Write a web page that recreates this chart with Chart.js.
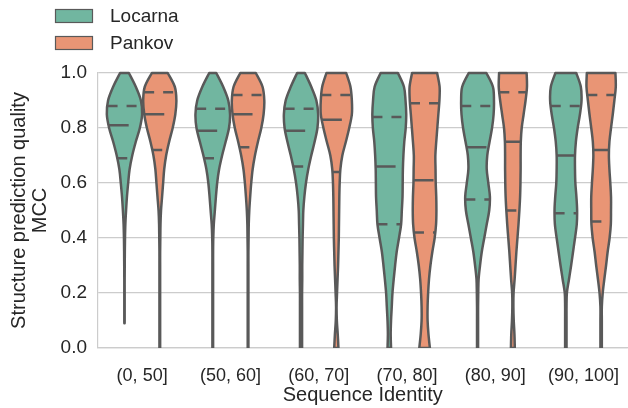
<!DOCTYPE html>
<html>
<head>
<meta charset="utf-8">
<script src="https://cdn.jsdelivr.net/npm/chart.js@4.4.0/dist/chart.umd.min.js"></script>
<style>
  html, body { margin: 0; padding: 0; background: #fff; }
</style>
</head>
<body>
<canvas id="violinChart" width="628" height="408"></canvas>
<script>
// categories and series
const categories = ["(0, 50]", "(50, 60]", "(60, 70]", "(70, 80]", "(80, 90]", "(90, 100]"];
const seriesNames = ["Locarna", "Pankov"];
const seriesColors = ["#71b6a0", "#e99575"];
const outlineColor = "#595959";

// MCC levels where the violin widths were read (bottom -> top)
const levels = [0, 0.05, 0.1, 0.15, 0.2, 0.25, 0.3, 0.35, 0.4, 0.45, 0.5,
                0.55, 0.6, 0.65, 0.7, 0.75, 0.8, 0.85, 0.9, 0.95, 1];

// relative half-widths (1 = full half of the slot), one row per category
const locarnaDensity = [
  [0, 0, 0.01, 0.01, 0.01, 0.01, 0.015, 0.02, 0.03, 0.05, 0.09, 0.14, 0.21, 0.29, 0.44, 0.64, 0.87, 1.0, 0.93, 0.64, 0.25],
  [0.02, 0.02, 0.02, 0.02, 0.02, 0.02, 0.02, 0.02, 0.03, 0.06, 0.12, 0.18, 0.25, 0.36, 0.53, 0.73, 0.92, 0.98, 0.88, 0.59, 0.2],
  [0.06, 0.06, 0.06, 0.06, 0.06, 0.07, 0.07, 0.08, 0.09, 0.11, 0.13, 0.19, 0.28, 0.41, 0.58, 0.77, 0.93, 0.97, 0.87, 0.58, 0.22],
  [0.1, 0.08, 0.1, 0.14, 0.18, 0.25, 0.33, 0.42, 0.55, 0.67, 0.71, 0.75, 0.76, 0.77, 0.8, 0.85, 0.93, 0.96, 0.92, 0.83, 0.49],
  [0.03, 0.03, 0.03, 0.03, 0.04, 0.06, 0.14, 0.24, 0.38, 0.52, 0.66, 0.7, 0.61, 0.52, 0.55, 0.68, 0.82, 0.91, 0.93, 0.87, 0.5],
  [0.04, 0.04, 0.04, 0.04, 0.06, 0.18, 0.3, 0.41, 0.52, 0.62, 0.64, 0.6, 0.54, 0.52, 0.52, 0.57, 0.67, 0.8, 0.89, 0.85, 0.59]
];
const pankovDensity = [
  [0.02, 0.02, 0.02, 0.02, 0.02, 0.02, 0.02, 0.02, 0.03, 0.04, 0.07, 0.13, 0.19, 0.25, 0.36, 0.53, 0.73, 0.88, 0.94, 0.85, 0.45],
  [0.02, 0.02, 0.02, 0.02, 0.02, 0.02, 0.02, 0.02, 0.03, 0.04, 0.07, 0.12, 0.18, 0.26, 0.39, 0.56, 0.75, 0.88, 0.92, 0.82, 0.44],
  [0.12, 0.08, 0.03, 0.015, 0.04, 0.07, 0.1, 0.12, 0.14, 0.15, 0.16, 0.17, 0.19, 0.23, 0.34, 0.54, 0.73, 0.88, 0.88, 0.8, 0.56],
  [0.3, 0.22, 0.17, 0.17, 0.2, 0.25, 0.33, 0.44, 0.57, 0.65, 0.67, 0.66, 0.63, 0.62, 0.61, 0.66, 0.72, 0.78, 0.84, 0.85, 0.71],
  [0.11, 0.09, 0.05, 0.03, 0.04, 0.1, 0.15, 0.2, 0.26, 0.32, 0.37, 0.41, 0.43, 0.44, 0.44, 0.45, 0.5, 0.61, 0.72, 0.8, 0.78],
  [0.04, 0.04, 0.04, 0.04, 0.09, 0.18, 0.28, 0.37, 0.48, 0.55, 0.56, 0.56, 0.52, 0.47, 0.44, 0.47, 0.56, 0.66, 0.75, 0.83, 0.81]
];

// data range and quartiles
const locarnaMin = [0.09, 0, 0, 0, 0, 0];
const locarnaMax = [1, 1, 1, 1, 1, 1];
const locarnaQ1 = [0.69, 0.69, 0.66, 0.45, 0.54, 0.49];
const locarnaMedian = [0.81, 0.79, 0.79, 0.66, 0.73, 0.70];
const locarnaQ3 = [0.88, 0.87, 0.87, 0.84, 0.88, 0.88];

const pankovMin = [0, 0, 0, 0, 0, 0];
const pankovMax = [1, 1, 1, 1, 1, 1];
const pankovQ1 = [0.72, 0.73, 0.64, 0.42, 0.50, 0.46];
const pankovMedian = [0.85, 0.85, 0.83, 0.61, 0.75, 0.72];
const pankovQ3 = [0.93, 0.92, 0.92, 0.89, 0.93, 0.92];

const yTickStep = 0.2;

const violinStats = [
  { density: locarnaDensity, min: locarnaMin, max: locarnaMax, q1: locarnaQ1, med: locarnaMedian, q3: locarnaQ3 },
  { density: pankovDensity, min: pankovMin, max: pankovMax, q1: pankovQ1, med: pankovMedian, q3: pankovQ3 }
];

function widthAt(dens, v) {
  for (let i = 0; i < levels.length - 1; i++) {
    if (v >= levels[i] && v <= levels[i + 1]) {
      const t = (v - levels[i]) / (levels[i + 1] - levels[i]);
      return dens[i] + t * (dens[i + 1] - dens[i]);
    }
  }
  return v < levels[0] ? dens[0] : dens[dens.length - 1];
}

function curveThrough(ctx, pts) {
  for (let i = 0; i < pts.length - 1; i++) {
    const p0 = pts[i - 1] || pts[i], p1 = pts[i], p2 = pts[i + 1], p3 = pts[i + 2] || p2;
    ctx.bezierCurveTo(p1.x + (p2.x - p0.x) / 6, p1.y + (p2.y - p0.y) / 6,
                      p2.x - (p3.x - p1.x) / 6, p2.y - (p3.y - p1.y) / 6, p2.x, p2.y);
  }
}

const violinPlugin = {
  id: 'violins',
  beforeDatasetDraw() {
    return false; // bars are only used for placement
  },
  afterDatasetsDraw(chart) {
    const ctx = chart.ctx;
    const yScale = chart.scales.y;
    const area = chart.chartArea;
    ctx.save();
    ctx.beginPath();
    ctx.rect(area.left, area.top - 4, area.right - area.left, area.bottom - area.top + 4);
    ctx.clip();
    chart.data.datasets.forEach((ds, di) => {
      const meta = chart.getDatasetMeta(di);
      const st = violinStats[di];
      meta.data.forEach((bar, ci) => {
        const half = bar.width / 2;
        const cx = bar.x;
        const dens = st.density[ci];
        const lo = st.min[ci], hi = st.max[ci];
        const samples = [];
        if (levels.indexOf(lo) < 0) samples.push({ v: lo, w: widthAt(dens, lo) });
        levels.forEach((lv, i) => {
          if (lv >= lo && lv <= hi) samples.push({ v: lv, w: dens[i] });
        });
        const left = samples.map(s => ({ x: cx - s.w * half, y: yScale.getPixelForValue(s.v) }));
        const right = samples.map(s => ({ x: cx + s.w * half, y: yScale.getPixelForValue(s.v) })).reverse();

        ctx.beginPath();
        ctx.moveTo(left[0].x, left[0].y);
        curveThrough(ctx, left);
        ctx.lineTo(right[0].x, right[0].y);
        curveThrough(ctx, right);
        ctx.closePath();
        ctx.fillStyle = ds.backgroundColor;
        ctx.fill();
        ctx.lineWidth = 2.5;
        ctx.lineJoin = 'round';
        ctx.strokeStyle = outlineColor;
        ctx.stroke();

        // quartile lines
        const quart = [[st.q1[ci], [10, 9]], [st.med[ci], [20, 20]], [st.q3[ci], [10, 9]]];
        quart.forEach(([q, dash]) => {
          const w = widthAt(dens, q) * half;
          const y = yScale.getPixelForValue(q);
          ctx.beginPath();
          ctx.setLineDash(dash);
          ctx.lineDashOffset = 0;
          ctx.moveTo(cx - w, y);
          ctx.lineTo(cx + w, y);
          ctx.lineWidth = 2.5;
          ctx.lineCap = 'butt';
          ctx.stroke();
          ctx.setLineDash([]);
        });
      });
    });
    ctx.restore();
  },
  afterDraw(chart) {
    // legend stacked at top-left
    const ctx = chart.ctx;
    ctx.save();
    ctx.font = '19px "Liberation Sans", Arial, sans-serif';
    ctx.textBaseline = 'middle';
    chart.data.datasets.forEach((ds, i) => {
      const y = 9.5 + i * 27;
      ctx.fillStyle = ds.backgroundColor;
      ctx.fillRect(55.5, y, 37, 13);
      ctx.strokeStyle = outlineColor;
      ctx.lineWidth = 1.2;
      ctx.strokeRect(55.5, y, 37, 13);
      ctx.fillStyle = '#262626';
      ctx.fillText(ds.label, 110, y + 7);
    });
    ctx.restore();
  }
};

Chart.defaults.font.family = '"Liberation Sans", Arial, sans-serif';
Chart.defaults.color = '#262626';

new Chart(document.getElementById('violinChart'), {
  type: 'bar',
  data: {
    labels: categories,
    datasets: seriesNames.map((name, i) => ({
      label: name,
      data: violinStats[i].med,
      backgroundColor: seriesColors[i],
      borderColor: outlineColor,
      categoryPercentage: 0.8,
      barPercentage: 1.0
    }))
  },
  options: {
    responsive: false,
    animation: false,
    layout: { padding: { top: 73, right: 0, left: 0, bottom: 0 } },
    plugins: {
      legend: { display: false },
      tooltip: { enabled: false }
    },
    scales: {
      x: {
        grid: { display: false },
        border: { display: true, color: '#cccccc', width: 1.2 },
        ticks: { font: { size: 18 }, padding: 9 },
        title: { display: true, text: 'Sequence Identity', font: { size: 20, lineHeight: 1.2 }, padding: { top: 0, bottom: 1 } },
        afterFit: s => { s.height = 60; }
      },
      y: {
        min: 0,
        max: 1,
        grid: { color: '#cccccc', lineWidth: 1.2, drawTicks: false },
        border: { display: true, color: '#cccccc', width: 1.2 },
        ticks: { stepSize: yTickStep, font: { size: 19 }, padding: 11, callback: v => v.toFixed(1) },
        title: { display: true, text: ['Structure prediction quality', 'MCC'], font: { size: 20, lineHeight: 1.05 }, padding: { top: 9, bottom: 0 } },
        afterFit: s => { s.width = 98; }
      }
    }
  },
  plugins: [violinPlugin]
});
</script>
</body>
</html>
